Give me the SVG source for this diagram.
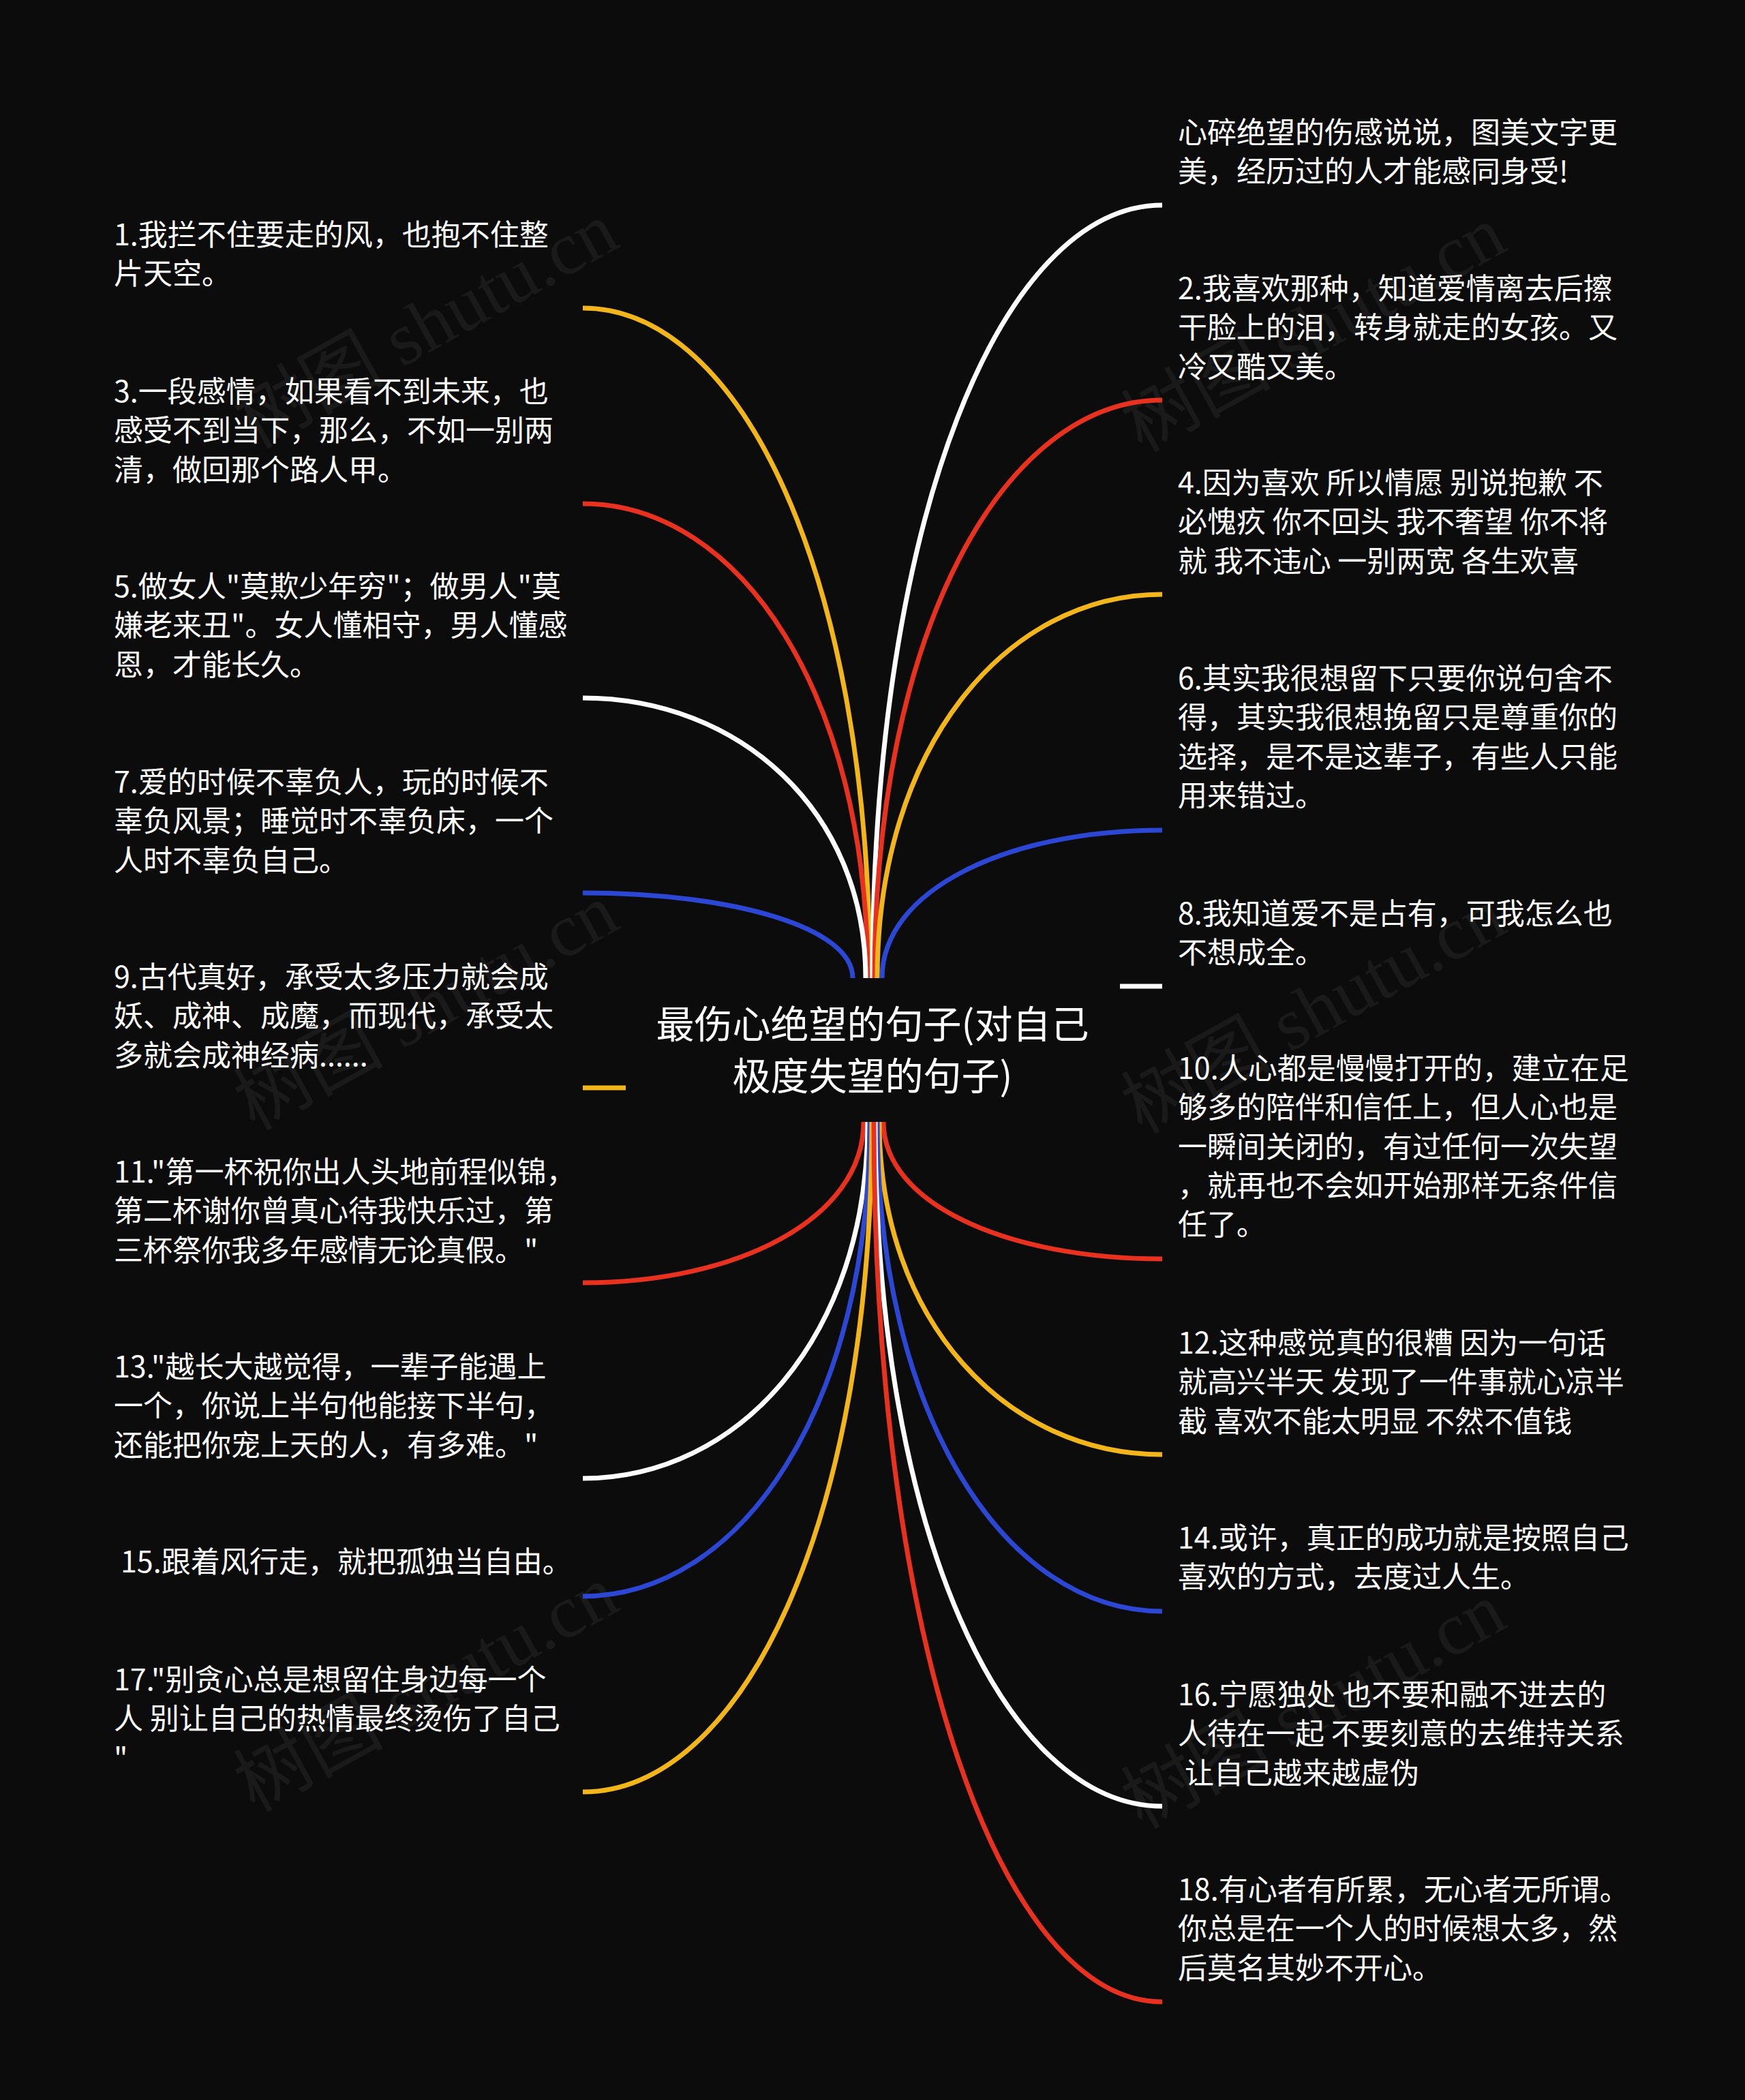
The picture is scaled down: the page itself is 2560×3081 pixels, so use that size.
<svg xmlns="http://www.w3.org/2000/svg" width="2560" height="3081" viewBox="0 0 2560 3081">
<style>
.bg{fill:#0c0c0c}
.t{font-family:"Noto Sans CJK SC","Noto Sans",sans-serif;font-size:43px;fill:#ffffff}
.title{font-family:"Noto Sans CJK SC","Noto Sans",sans-serif;font-size:56px;fill:#ffffff;text-anchor:middle}
.wm{font-family:"Liberation Serif","Noto Sans CJK SC",serif;font-size:110px;fill:#ffffff;fill-opacity:0.06}
.c{fill:none;stroke-width:7}
.y{stroke:#f2b61b}.r{stroke:#e8321f}.b{stroke:#2c47d4}.w{stroke:#ffffff}
</style>
<rect class="bg" x="0" y="0" width="2560" height="3081"/>
<g id="watermarks">
<text class="wm" transform="translate(643,510) rotate(-29)" text-anchor="middle">树图 shutu.cn</text>
<text class="wm" transform="translate(643,1510) rotate(-29)" text-anchor="middle">树图 shutu.cn</text>
<text class="wm" transform="translate(643,2510) rotate(-29)" text-anchor="middle">树图 shutu.cn</text>
<text class="wm" transform="translate(1945,515) rotate(-29)" text-anchor="middle">树图 shutu.cn</text>
<text class="wm" transform="translate(1945,1515) rotate(-29)" text-anchor="middle">树图 shutu.cn</text>
<text class="wm" transform="translate(1945,2535) rotate(-29)" text-anchor="middle">树图 shutu.cn</text>
</g>
<g id="connectors">
<path class="c y" d="M1276 1435 C1276 845 1087 452 855 452"/>
<path class="c r" d="M1273 1435 C1273 1017 1085 739 855 739"/>
<path class="c w" d="M1270 1435 C1270 1188 1083 1024 855 1024"/>
<path class="c b" d="M1251 1435 C1251 1360 1073 1310 855 1310"/>
<path class="c w" d="M1280 1435 C1280 755 1471 301 1705 301"/>
<path class="c r" d="M1283 1435 C1283 926 1473 587 1705 587"/>
<path class="c y" d="M1287 1435 C1287 1097 1475 872 1705 872"/>
<path class="c b" d="M1294 1435 C1294 1305 1479 1218 1705 1218"/>
<path class="c y" d="M918 1596 L855 1596"/>
<path class="c w" d="M1643 1447 L1705 1447"/>
<path class="c r" d="M1267 1646 C1267 1788 1082 1882 855 1882"/>
<path class="c w" d="M1273 1646 C1273 1960 1085 2169 855 2169"/>
<path class="c b" d="M1276 1646 C1276 2064 1087 2342 855 2342"/>
<path class="c y" d="M1279 1646 C1279 2236 1088 2629 855 2629"/>
<path class="c r" d="M1296 1646 C1296 1767 1480 1847 1705 1847"/>
<path class="c y" d="M1290 1646 C1290 1939 1477 2134 1705 2134"/>
<path class="c b" d="M1287 1646 C1287 2077 1475 2364 1705 2364"/>
<path class="c w" d="M1284 1646 C1284 2248 1474 2650 1705 2650"/>
<path class="c r" d="M1282 1646 C1282 2421 1472 2937 1705 2937"/>
</g>
<g id="center">
<text class="title"><tspan x="1280" y="1523">最伤心绝望的句子(对自己</tspan><tspan x="1280" y="1599">极度失望的句子)</tspan></text>
</g>
<g id="n1"><text class="t"><tspan x="167" y="360">1.我拦不住要走的风，也抱不住整</tspan><tspan x="167" y="417.3">片天空。</tspan></text></g>
<g id="n3"><text class="t"><tspan x="167" y="590">3.一段感情，如果看不到未来，也</tspan><tspan x="167" y="647.3">感受不到当下，那么，不如一别两</tspan><tspan x="167" y="704.7">清，做回那个路人甲。</tspan></text></g>
<g id="n5"><text class="t"><tspan x="167" y="876">5.做女人"莫欺少年穷"；做男人"莫</tspan><tspan x="167" y="933.3">嫌老来丑"。女人懂相守，男人懂感</tspan><tspan x="167" y="990.7">恩，才能长久。</tspan></text></g>
<g id="n7"><text class="t"><tspan x="167" y="1163">7.爱的时候不辜负人，玩的时候不</tspan><tspan x="167" y="1220.3">辜负风景；睡觉时不辜负床，一个</tspan><tspan x="167" y="1277.7">人时不辜负自己。</tspan></text></g>
<g id="n9"><text class="t"><tspan x="167" y="1449">9.古代真好，承受太多压力就会成</tspan><tspan x="167" y="1506.3">妖、成神、成魔，而现代，承受太</tspan><tspan x="167" y="1563.7">多就会成神经病......</tspan></text></g>
<g id="n11"><text class="t"><tspan x="167" y="1735">11."第一杯祝你出人头地前程似锦，</tspan><tspan x="167" y="1792.3">第二杯谢你曾真心待我快乐过，第</tspan><tspan x="167" y="1849.7">三杯祭你我多年感情无论真假。"</tspan></text></g>
<g id="n13"><text class="t"><tspan x="167" y="2021">13."越长大越觉得，一辈子能遇上</tspan><tspan x="167" y="2078.3">一个，你说上半句他能接下半句，</tspan><tspan x="167" y="2135.7">还能把你宠上天的人，有多难。"</tspan></text></g>
<g id="n15"><text class="t"><tspan x="177" y="2307">15.跟着风行走，就把孤独当自由。</tspan></text></g>
<g id="n17"><text class="t"><tspan x="167" y="2480">17."别贪心总是想留住身边每一个</tspan><tspan x="167" y="2537.3">人 别让自己的热情最终烫伤了自己</tspan><tspan x="167" y="2594.7">"</tspan></text></g>
<g id="n0"><text class="t"><tspan x="1728" y="210">心碎绝望的伤感说说，图美文字更</tspan><tspan x="1728" y="267.3">美，经历过的人才能感同身受!</tspan></text></g>
<g id="n2"><text class="t"><tspan x="1728" y="439">2.我喜欢那种，知道爱情离去后擦</tspan><tspan x="1728" y="496.3">干脸上的泪，转身就走的女孩。又</tspan><tspan x="1728" y="553.7">冷又酷又美。</tspan></text></g>
<g id="n4"><text class="t"><tspan x="1728" y="724">4.因为喜欢 所以情愿 别说抱歉 不</tspan><tspan x="1728" y="781.3">必愧疚 你不回头 我不奢望 你不将</tspan><tspan x="1728" y="838.7">就 我不违心 一别两宽 各生欢喜</tspan></text></g>
<g id="n6"><text class="t"><tspan x="1728" y="1011">6.其实我很想留下只要你说句舍不</tspan><tspan x="1728" y="1068.3">得，其实我很想挽留只是尊重你的</tspan><tspan x="1728" y="1125.7">选择，是不是这辈子，有些人只能</tspan><tspan x="1728" y="1183">用来错过。</tspan></text></g>
<g id="n8"><text class="t"><tspan x="1728" y="1356">8.我知道爱不是占有，可我怎么也</tspan><tspan x="1728" y="1413.3">不想成全。</tspan></text></g>
<g id="n10"><text class="t"><tspan x="1728" y="1583">10.人心都是慢慢打开的，建立在足</tspan><tspan x="1728" y="1640.3">够多的陪伴和信任上，但人心也是</tspan><tspan x="1728" y="1697.7">一瞬间关闭的，有过任何一次失望</tspan><tspan x="1728" y="1755">，就再也不会如开始那样无条件信</tspan><tspan x="1728" y="1812.3">任了。</tspan></text></g>
<g id="n12"><text class="t"><tspan x="1728" y="1986">12.这种感觉真的很糟 因为一句话</tspan><tspan x="1728" y="2043.3">就高兴半天 发现了一件事就心凉半</tspan><tspan x="1728" y="2100.7">截 喜欢不能太明显 不然不值钱</tspan></text></g>
<g id="n14"><text class="t"><tspan x="1728" y="2272">14.或许，真正的成功就是按照自己</tspan><tspan x="1728" y="2329.3">喜欢的方式，去度过人生。</tspan></text></g>
<g id="n16"><text class="t"><tspan x="1728" y="2502">16.宁愿独处 也不要和融不进去的</tspan><tspan x="1728" y="2559.3">人待在一起 不要刻意的去维持关系</tspan><tspan x="1738" y="2616.7">让自己越来越虚伪</tspan></text></g>
<g id="n18"><text class="t"><tspan x="1728" y="2788">18.有心者有所累，无心者无所谓。</tspan><tspan x="1728" y="2845.3">你总是在一个人的时候想太多，然</tspan><tspan x="1728" y="2902.7">后莫名其妙不开心。</tspan></text></g>
</svg>
